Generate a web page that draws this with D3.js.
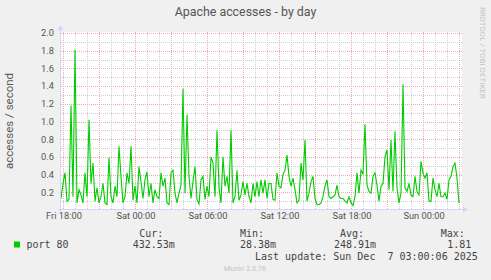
<!DOCTYPE html>
<html lang="en">
  <head>
    <meta charset="UTF-8" />
    <script src="https://d3js.org/d3.v7.min.js"></script>
    <title>Apache accesses - by day</title>
    <style>
      body { margin: 0; background: #f0f0f0; }
      svg { display: block; }
      .sans { font-family: Roboto, 'DejaVu Sans', sans-serif; }
      .mono { font-family: 'DejaVu Sans Mono', monospace; font-size: 10px; fill: #444; }
    </style>
  </head>
  <body>
    <div id="chart"></div>
  </body>
  <script>
    // accesses per second, one sample every 10 minutes from Fri 17:50
    const startTime = new Date(2025, 11, 5, 17, 50)
    const endTime = new Date(2025, 11, 7, 3, 10)
    const stepMinutes = 10
    const accesses = [
      0.13, 0.30, 0.42, 0.10, 0.12, 1.18, 0.15, 1.81, 0.08, 0.23,
      0.17, 0.08, 0.42, 0.15, 1.02, 0.30, 0.53, 0.10, 0.25, 0.08,
      0.15, 0.30, 0.08, 0.06, 0.59, 0.15, 0.08, 0.27, 0.15, 0.72,
      0.38, 0.08, 0.15, 0.42, 0.30, 0.72, 0.11, 0.27, 0.08, 0.49,
      0.32, 0.13, 0.34, 0.43, 0.15, 0.30, 0.08, 0.23, 0.15, 0.13,
      0.42, 0.27, 0.36, 0.08, 0.06, 0.42, 0.45, 0.19, 0.08, 0.19,
      0.28, 1.37, 0.19, 1.08, 0.38, 0.13, 0.32, 0.49, 0.12, 0.07,
      0.34, 0.38, 0.12, 0.27, 0.15, 0.60, 0.53, 0.15, 0.90, 0.25,
      0.08, 0.60, 0.27, 0.38, 0.19, 0.90, 0.08, 0.15, 0.45, 0.11,
      0.17, 0.32, 0.17, 0.30, 0.15, 0.08, 0.30, 0.15, 0.32, 0.15,
      0.34, 0.19, 0.34, 0.13, 0.30, 0.30, 0.12, 0.11, 0.42, 0.27,
      0.25, 0.40, 0.45, 0.62, 0.38, 0.27, 0.36, 0.23, 0.08, 0.11,
      0.53, 0.34, 0.79, 0.10, 0.19, 0.32, 0.38, 0.13, 0.06, 0.06,
      0.08, 0.15, 0.27, 0.34, 0.15, 0.13, 0.15, 0.17, 0.28, 0.15,
      0.13, 0.13, 0.10, 0.08, 0.15, 0.08, 0.05, 0.15, 0.42, 0.19,
      0.45, 0.40, 0.97, 0.28, 0.21, 0.19, 0.38, 0.42, 0.28, 0.10,
      0.27, 0.30, 0.60, 0.68, 0.23, 0.79, 0.21, 0.89, 0.25, 0.08,
      0.19, 1.42, 0.25, 0.21, 0.30, 0.17, 0.15, 0.38, 0.21, 0.17,
      0.55, 0.42, 0.36, 0.42, 0.10, 0.10, 0.36, 0.23, 0.15, 0.30,
      0.15, 0.15, 0.19, 0.12, 0.34, 0.38, 0.49, 0.53, 0.36, 0.08,
    ]

    const tickTimes = [
      new Date(2025, 11, 5, 18), new Date(2025, 11, 6, 0), new Date(2025, 11, 6, 6),
      new Date(2025, 11, 6, 12), new Date(2025, 11, 6, 18), new Date(2025, 11, 7, 0),
    ]
    const tickLabels = ['Fri 18:00', 'Sat 00:00', 'Sat 06:00', 'Sat 12:00', 'Sat 18:00', 'Sun 00:00']
    const yTicks = [0.2, 0.4, 0.6, 0.8, 1.0, 1.2, 1.4, 1.6, 1.8, 2.0]

    const seriesName = 'port 80'
    const legendHeaders = ['Cur:', 'Min:', 'Avg:', 'Max:']
    const legendValues = ['432.53m', '28.38m', '248.91m', '1.81']
    const lastUpdate = 'Last update: Sun Dec  7 03:00:06 2025'

    const data = accesses.map((v, i) => ({
      time: new Date(startTime.getTime() + i * stepMinutes * 60000),
      value: v,
    }))

    const width = 491, height = 280
    const plot = { left: 61, right: 461, top: 33, bottom: 210 }

    const x = d3.scaleTime().domain([startTime, endTime]).range([plot.left, plot.right])
    const y = d3.scaleLinear().domain([0, 2]).range([plot.bottom, plot.top])

    const svg = d3.select('#chart').append('svg')
      .attr('width', width).attr('height', height)

    svg.append('rect').attr('width', width).attr('height', height).attr('fill', '#f0f0f0')
    svg.append('rect')
      .attr('x', plot.left).attr('y', plot.top - 1)
      .attr('width', plot.right - plot.left + 1).attr('height', plot.bottom - plot.top)
      .attr('fill', '#fff')

    const gridColor = '#d0d0d0'
    const majorColor = '#e8aaaa'

    // minor grid
    const minorY = d3.range(0.1, 2.01, 0.2)
    svg.append('g').selectAll('line').data(minorY).enter().append('line')
      .attr('x1', plot.left).attr('x2', plot.right + 1)
      .attr('y1', (d) => Math.round(y(d)) + 0.5).attr('y2', (d) => Math.round(y(d)) + 0.5)
      .attr('stroke', gridColor).attr('stroke-dasharray', '1 1')
    const minorX = d3.timeHour.range(startTime, endTime).filter((t) => t.getHours() % 3 !== 0)
    svg.append('g').selectAll('line').data(minorX).enter().append('line')
      .attr('x1', (d) => Math.round(x(d)) + 0.5).attr('x2', (d) => Math.round(x(d)) + 0.5)
      .attr('y1', plot.top - 1).attr('y2', plot.bottom)
      .attr('stroke', gridColor).attr('stroke-dasharray', '1 1')

    // major grid
    svg.append('g').selectAll('line').data(yTicks).enter().append('line')
      .attr('x1', plot.left).attr('x2', plot.right + 1)
      .attr('y1', (d) => Math.round(y(d)) + 0.5).attr('y2', (d) => Math.round(y(d)) + 0.5)
      .attr('stroke', majorColor).attr('stroke-dasharray', '1 1')
    const majorX = d3.timeHour.range(startTime, endTime).filter((t) => t.getHours() % 3 === 0)
    svg.append('g').selectAll('line').data(majorX).enter().append('line')
      .attr('x1', (d) => Math.round(x(d)) + 0.5).attr('x2', (d) => Math.round(x(d)) + 0.5)
      .attr('y1', plot.top - 1).attr('y2', plot.bottom)
      .attr('stroke', majorColor).attr('stroke-dasharray', '1 1')

    // y labels
    svg.append('g').selectAll('text').data(yTicks).enter().append('text')
      .attr('class', 'sans')
      .attr('x', 54).attr('y', (d) => y(d) + 3.3)
      .attr('text-anchor', 'end').attr('font-size', '9.3px').attr('fill', '#555')
      .text(d3.format('.1f'))

    // x labels
    svg.append('g').selectAll('text').data(tickTimes).enter().append('text')
      .attr('class', 'sans')
      .attr('x', (d) => x(d) + 1).attr('y', 218.5)
      .attr('text-anchor', 'middle').attr('font-size', '9.3px').attr('fill', '#555')
      .text((d, i) => tickLabels[i])

    // series line
    const line = d3.line().x((d) => x(d.time)).y((d) => y(d.value))
    svg.append('path').datum(data)
      .attr('d', line).attr('fill', 'none')
      .attr('stroke', '#00cc00').attr('stroke-width', 1.1)

    // axes with arrows
    const axisColor = '#cfd6f8'
    svg.append('line')
      .attr('x1', plot.left - 0.5).attr('x2', plot.left - 0.5)
      .attr('y1', plot.bottom + 2).attr('y2', plot.top - 4)
      .attr('stroke', axisColor)
    svg.append('path')
      .attr('d', `M${plot.left - 3.5},${plot.top - 3} L${plot.left - 0.5},${plot.top - 8} L${plot.left + 2.5},${plot.top - 3} Z`)
      .attr('fill', axisColor)
    svg.append('line')
      .attr('x1', plot.left - 3).attr('x2', plot.right + 4)
      .attr('y1', plot.bottom - 0.5).attr('y2', plot.bottom - 0.5)
      .attr('stroke', axisColor)
    svg.append('path')
      .attr('d', `M${plot.right + 2},${plot.bottom - 3.5} L${plot.right + 7},${plot.bottom - 0.5} L${plot.right + 2},${plot.bottom + 2.5} Z`)
      .attr('fill', axisColor)

    // title and y label
    svg.append('text').attr('class', 'sans')
      .attr('x', 245.5).attr('y', 16).attr('text-anchor', 'middle')
      .attr('font-size', '12.4px').attr('fill', '#555')
      .text('Apache accesses - by day')
    svg.append('text').attr('class', 'sans')
      .attr('transform', 'translate(13,121) rotate(-90)').attr('text-anchor', 'middle')
      .attr('font-size', '11.5px').attr('fill', '#5a5a5a')
      .text('accesses / second')
    svg.append('text').attr('class', 'sans')
      .attr('transform', 'translate(480,7) rotate(90)').attr('text-anchor', 'start')
      .attr('font-size', '7.9px').attr('fill', '#c4c4c4')
      .text('RRDTOOL / TOBI OETIKER')

    // legend
    svg.append('rect').attr('x', 14).attr('y', 241.5).attr('width', 6).attr('height', 6)
      .attr('fill', '#00cc00')
    svg.append('text').attr('class', 'mono').attr('x', 26.5).attr('y', 248).text(seriesName)
    const headerX = [139.3, 240, 340, 440.7]
    const valueX = [132.7, 240, 334, 447.3]
    svg.append('g').selectAll('text').data(legendHeaders).enter().append('text')
      .attr('class', 'mono').attr('x', (d, i) => headerX[i]).attr('y', 237).text((d) => d)
    svg.append('g').selectAll('text').data(legendValues).enter().append('text')
      .attr('class', 'mono').attr('x', (d, i) => valueX[i]).attr('y', 248).text((d) => d)
    svg.append('text').attr('class', 'mono').attr('x', 255).attr('y', 259.5)
      .attr('xml:space', 'preserve').style('white-space', 'pre').text(lastUpdate)
    svg.append('text').attr('class', 'sans')
      .attr('x', 224).attr('y', 270.8).attr('font-size', '7.25px').attr('fill', '#c4c4c4')
      .text('Munin 2.0.76')
  </script>
</html>
